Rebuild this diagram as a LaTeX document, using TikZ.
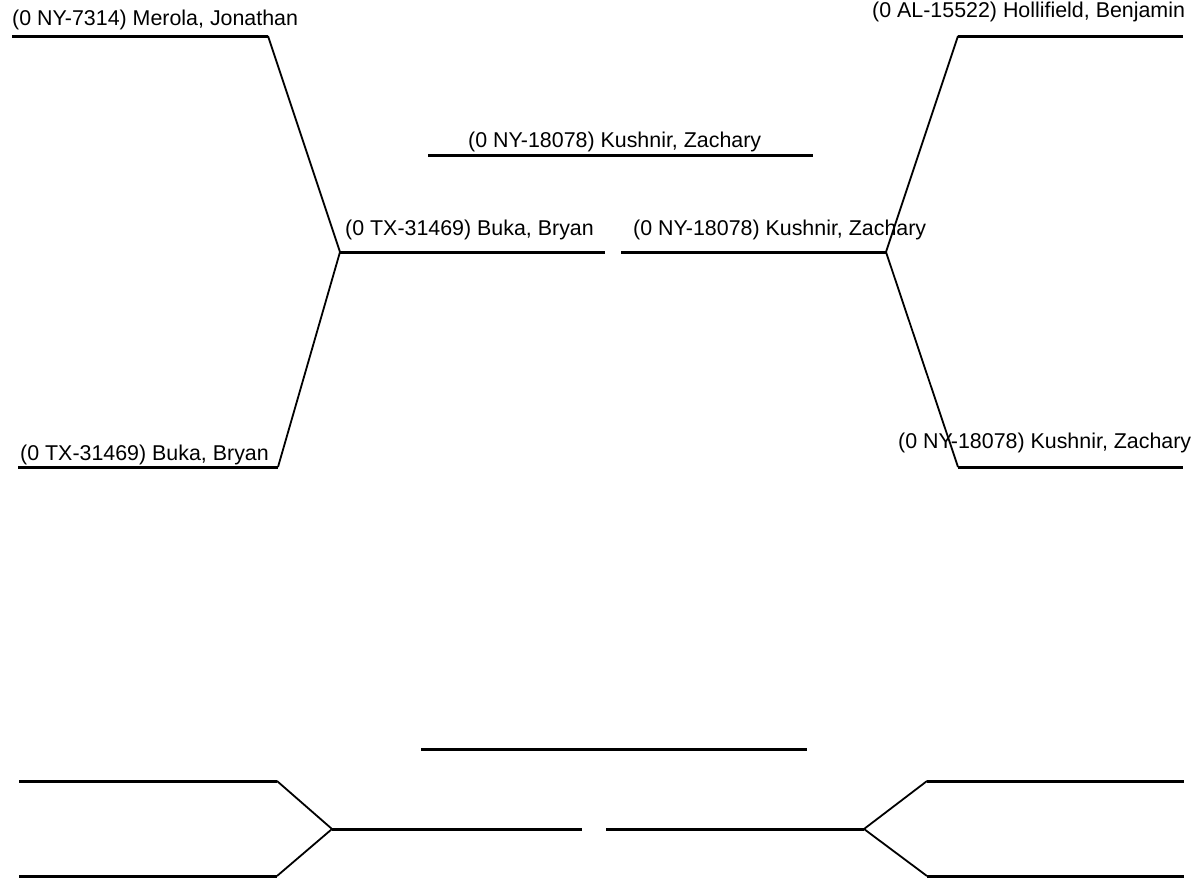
\documentclass[tikz,border=0pt]{standalone}
\usepackage{fontspec}
\setmainfont{Liberation Sans}
\tikzset{
  entrant/.style={anchor=base west, inner sep=0pt, font=\fontsize{21.4}{25}\selectfont},
  hline/.style={line width=3pt},
  dline/.style={line width=1.8pt},
}
\begin{document}
\begin{tikzpicture}[x=1pt,y=-1pt]
\useasboundingbox (0,0) rectangle (1194,878);
\coordinate (mA) at (12,36);
\coordinate (mB) at (268,36);
\coordinate (bA) at (18,467);
\coordinate (bB) at (278,467);
\coordinate (jL) at (340,252);
\coordinate (sL) at (605,252);
\coordinate (sR) at (621,252);
\coordinate (jR) at (886,252);
\coordinate (hA) at (958,36);
\coordinate (hB) at (1183,36);
\coordinate (kA) at (958,467);
\coordinate (kB) at (1183,467);
\coordinate (cA) at (428,155);
\coordinate (cB) at (813,155);
\node[entrant] (merola) at (12,25) {(0 NY-7314) Merola, Jonathan};
\node[entrant] (bukaQ) at (20,460) {(0 TX-31469) Buka, Bryan};
\node[entrant] (hollifield) at (872,17) {(0 AL-15522) Hollifield, Benjamin};
\node[entrant] (kushnirQ) at (898,448) {(0 NY-18078) Kushnir, Zachary};
\node[entrant] (bukaF) at (345,235) {(0 TX-31469) Buka, Bryan};
\node[entrant] (kushnirF) at (633,235) {(0 NY-18078) Kushnir, Zachary};
\node[entrant] (champ) at (468,147) {(0 NY-18078) Kushnir, Zachary};
\draw[hline] (mA) -- (mB);
\draw[dline] (mB) -- (jL);
\draw[hline] (bA) -- (bB);
\draw[dline] (bB) -- (jL);
\draw[hline] (jL) -- (sL);
\draw[hline] (sR) -- (jR);
\draw[hline] (hA) -- (hB);
\draw[dline] (hA) -- (jR);
\draw[hline] (kA) -- (kB);
\draw[dline] (kA) -- (jR);
\draw[hline] (cA) -- (cB);
\coordinate (eA) at (19,781);
\coordinate (eB) at (277,781);
\coordinate (fA) at (19,876);
\coordinate (fB) at (277,876);
\coordinate (gL) at (332,829);
\coordinate (tL) at (582,829);
\coordinate (tR) at (606,829);
\coordinate (gR) at (864,829);
\coordinate (pA) at (927,781);
\coordinate (pB) at (1184,781);
\coordinate (qA) at (927,876);
\coordinate (qB) at (1184,876);
\coordinate (wA) at (421,749);
\coordinate (wB) at (807,749);
\draw[hline] (eA) -- (eB);
\draw[dline] (eB) -- (gL);
\draw[hline] (fA) -- (fB);
\draw[dline] (fB) -- (gL);
\draw[hline] (gL) -- (tL);
\draw[hline] (tR) -- (gR);
\draw[hline] (pA) -- (pB);
\draw[dline] (pA) -- (gR);
\draw[hline] (qA) -- (qB);
\draw[dline] (qA) -- (gR);
\draw[hline] (wA) -- (wB);
\end{tikzpicture}
\end{document}
